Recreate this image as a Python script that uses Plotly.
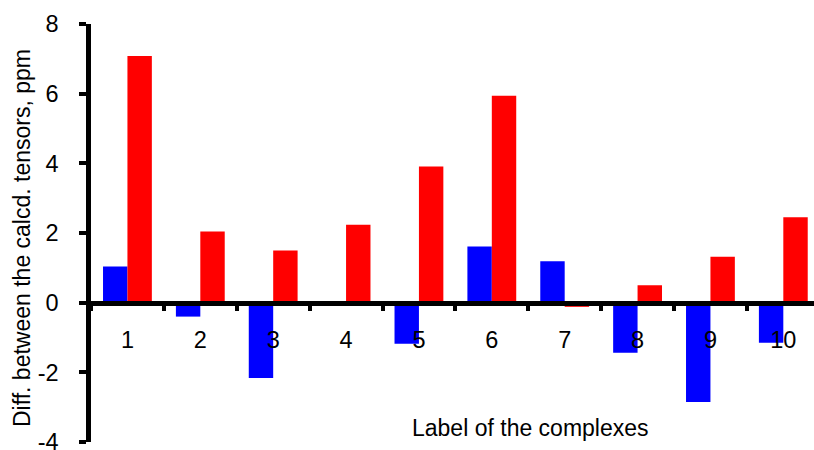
import plotly.graph_objects as go

categories = ["1", "2", "3", "4", "5", "6", "7", "8", "9", "10"]
blue_vals = [1.04, -0.40, -2.16, 0.0, -1.18, 1.61, 1.19, -1.44, -2.85, -1.15]
red_vals = [7.08, 2.04, 1.50, 2.24, 3.91, 5.94, -0.12, 0.50, 1.32, 2.45]
y_ticks = [-4, -2, 0, 2, 4, 6, 8]
y_ticktext = ["-4", "-2", "0", "2", "4", "6", "8"]

FONT = "Liberation Sans, Arial, sans-serif"

fig = go.Figure()
fig.add_trace(go.Bar(x=categories, y=blue_vals, marker=dict(color="#0000FF", line=dict(width=0)), name="blue"))
fig.add_trace(go.Bar(x=categories, y=red_vals, marker=dict(color="#FF0000", line=dict(width=0)), name="red"))

L = 91
W = 814 - L
catw = 72.875
fig.update_layout(
    width=814, height=450,
    margin=dict(l=L, r=0, t=24, b=8),
    paper_bgcolor="white", plot_bgcolor="white",
    barmode="group", bargap=0.33, bargroupgap=0,
    showlegend=False,
    font=dict(family=FONT, color="black", size=23),
    xaxis=dict(
        type="category",
        range=[-0.5, -0.5 + W / catw],
        anchor="free", position=1/3,
        showline=True, linecolor="black", linewidth=4.5,
        ticks="outside", ticklen=6, tickwidth=4, tickcolor="black",
        tickson="boundaries",
        showgrid=False, zeroline=False,
        tickfont=dict(size=23.5, family=FONT, color="black"),
        ticklabelstandoff=14,
        layer="above traces",
    ),
    yaxis=dict(
        range=[-4.0001, 8.0001],
        tickvals=y_ticks, ticktext=y_ticktext,
        showline=True, linecolor="black", linewidth=4.5,
        ticks="outside", ticklen=7, tickwidth=4, tickcolor="black",
        showgrid=False, zeroline=False,
        tickfont=dict(size=23.5, family=FONT, color="black"),
        ticklabelstandoff=16,
        ticklabeloverflow="allow",
        automargin=False,
    ),
    annotations=[
        dict(text="Diff. between the calcd. tensors, ppm", xref="paper", yref="paper",
             x=(22 - L) / W, y=(442 - 238) / 418, textangle=-90, showarrow=False,
             xanchor="center", yanchor="middle", font=dict(size=23, family=FONT, color="black")),
        dict(text="Label of the complexes", xref="paper", yref="paper",
             x=(530 - L) / W, y=(442 - 428) / 418, showarrow=False,
             xanchor="center", yanchor="middle", font=dict(size=23, family=FONT, color="black")),
    ],
)

fig.write_html("out.html")
